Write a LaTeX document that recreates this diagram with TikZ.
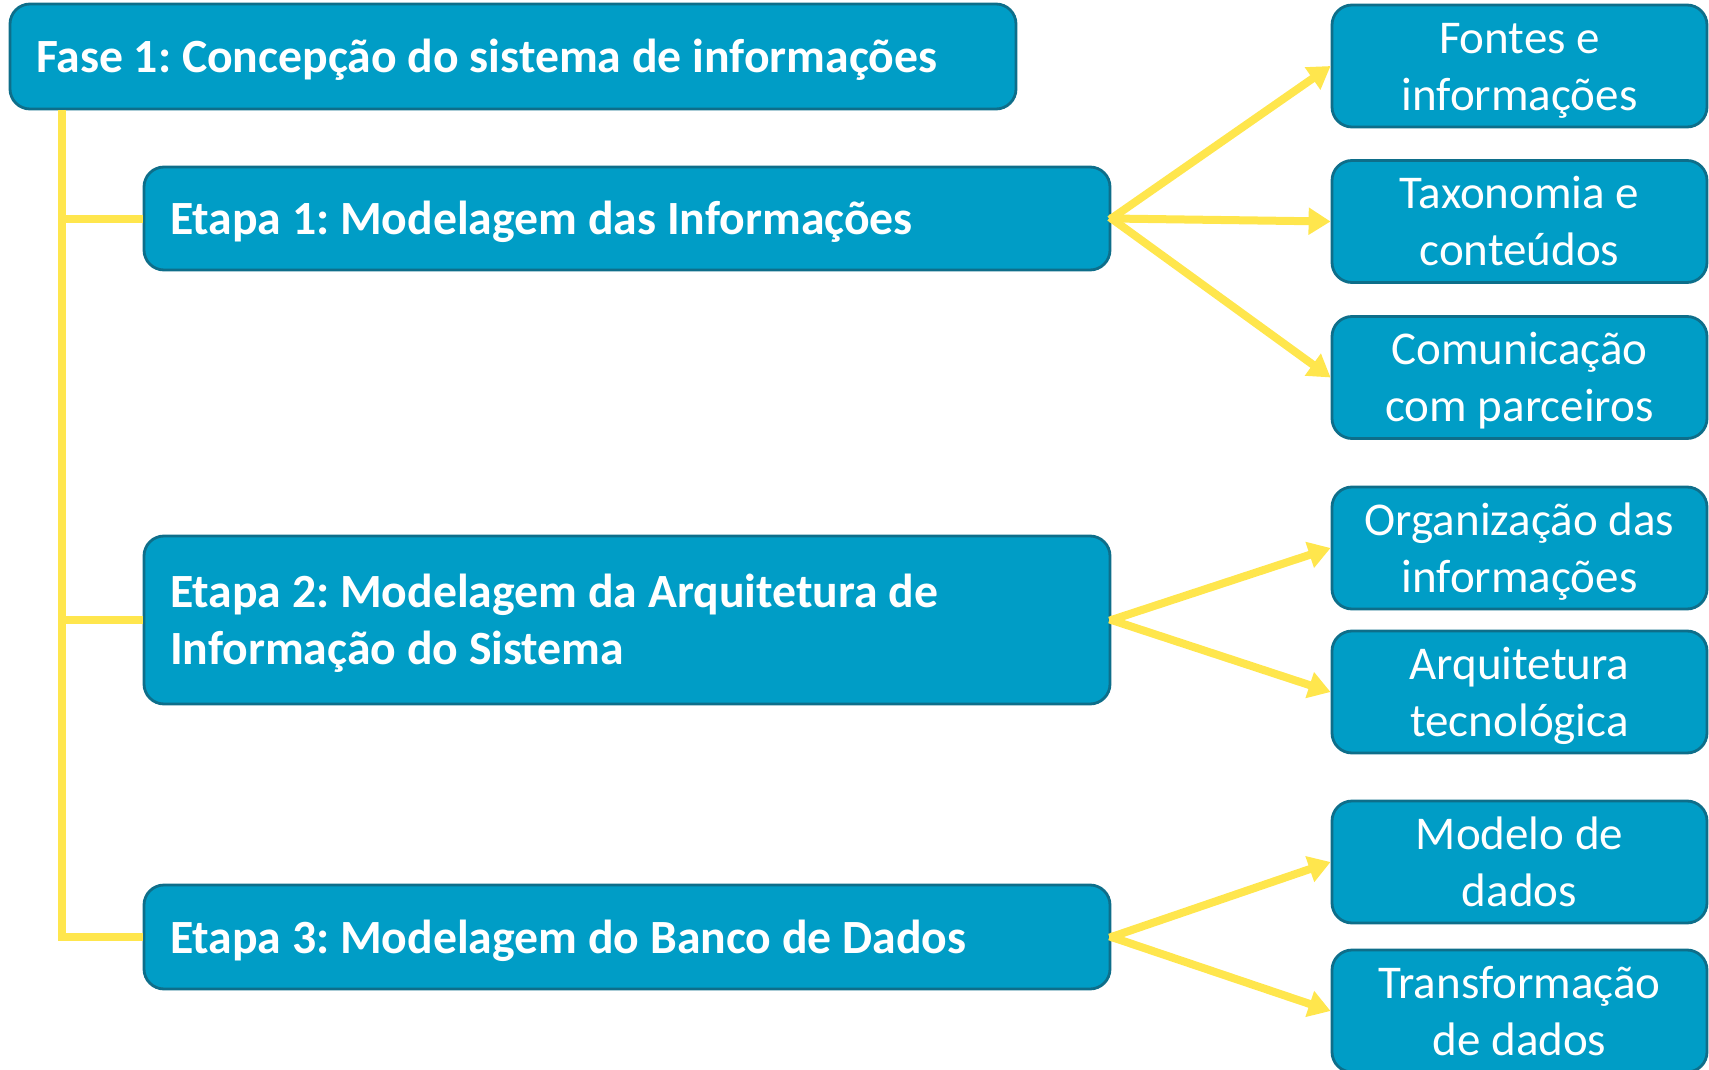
\documentclass[tikz,border=0pt]{standalone}
\usepackage{fontspec}
\setmainfont{Carlito}
\usepackage{xcolor}
\usepackage{tikz}
\usetikzlibrary{arrows.meta}
\definecolor{caixa}{RGB}{0,157,198}
\definecolor{borda}{RGB}{14,110,138}
\definecolor{amarelo}{RGB}{255,230,77}
\frenchspacing

\begin{document}
\begin{tikzpicture}[x=0.5pt, y=-0.5pt,
	caixa/.style={rectangle, rounded corners=10pt, fill=caixa, draw=borda, line width=1.4pt,
		text=white, font=\fontsize{23.5}{28.5}\selectfont, inner sep=0pt,
		execute at begin node={\rule{0pt}{0.95em}},
		execute at end node={\rule[-0.27em]{0pt}{0.27em}}},
	fase/.style={caixa, font=\bfseries\fontsize{23.85}{28.5}\selectfont, align=flush left,
		minimum height=51.5pt, minimum width=483pt, text width=457pt},
	item/.style={caixa, align=flush center, minimum width=187.5pt, minimum height=61pt, text width=185pt},
	tronco/.style={draw=amarelo, line width=4pt},
	seta/.style={draw=amarelo, line width=4pt, -{Triangle[length=11pt, width=13pt]}, shorten <=-1pt},
	]
			\useasboundingbox (0, 0) rectangle (1709, 1070);
			% fase e etapas
			\node[fase, minimum width=503pt, minimum height=52.5pt, text width=477pt] (fase1) at (513, 56.5) {Fase 1: Concepção do sistema de informações};
			\node[fase] (etapa1) at (627, 218.5) {Etapa 1: Modelagem das Informações};
			\node[fase, minimum height=84pt] (etapa2) at (627, 620) {Etapa 2: Modelagem da Arquitetura de\\Informação do Sistema};
			\node[fase, minimum height=52pt] (etapa3) at (627, 937) {Etapa 3: Modelagem do Banco de Dados};
			% itens
			\node[item] (fontes) at (1519.5, 66) {Fontes e\\informações};
			\node[item] (taxonomia) at (1519.5, 221.5) {Taxonomia e\\conteúdos};
			\node[item] (comunicacao) at (1519.5, 377.5) {Comunicação\\com parceiros};
			\node[item] (organizacao) at (1519.5, 548) {Organização das\\informações};
			\node[item] (arquitetura) at (1519.5, 692) {Arquitetura\\tecnológica};
			\node[item] (modelo) at (1519.5, 862) {Modelo de\\dados};
			\node[item] (transformacao) at (1519.5, 1011) {Transformação\\de dados};
			% tronco
			\coordinate (topo) at (62, 110);
			\draw[tronco] (topo) |- (etapa3.west);
			\draw[tronco] (topo |- etapa1.west) -- (etapa1.west);
			\draw[tronco] (topo |- etapa2.west) -- (etapa2.west);
			% setas
			\draw[seta] (etapa1.east) -- (fontes.west);
			\draw[seta] (etapa1.east) -- (taxonomia.west);
			\draw[seta] (etapa1.east) -- (comunicacao.west);
			\draw[seta] (etapa2.east) -- (organizacao.west);
			\draw[seta] (etapa2.east) -- (arquitetura.west);
			\draw[seta] (etapa3.east) -- (modelo.west);
			\draw[seta] (etapa3.east) -- (transformacao.west);
		\end{tikzpicture}
\end{document}
